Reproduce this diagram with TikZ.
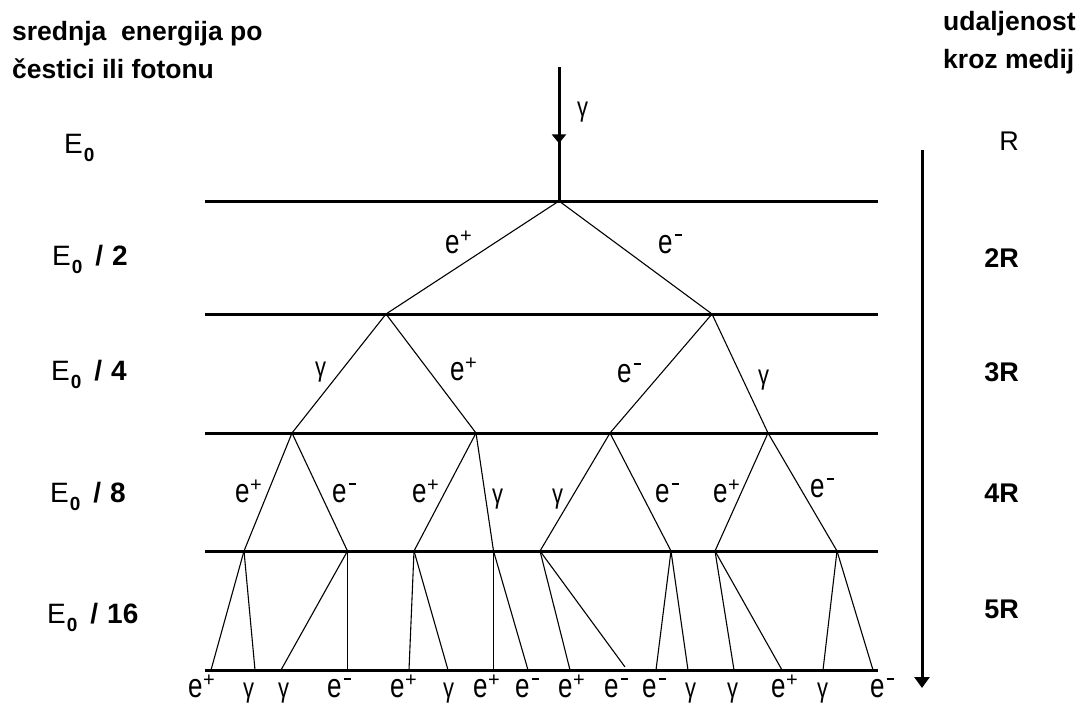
\documentclass[tikz,border=0pt]{standalone}
\usepackage{fontspec}
\setmainfont{Liberation Sans}
\usepackage{graphicx}
\usetikzlibrary{arrows.meta,decorations.markings}
\newcommand\ePlus{\scalebox{1}[1.3]{e}\kern0.5pt\raisebox{10.5pt}{\fontsize{20}{20}\selectfont +}}
\newcommand\eMinus{\scalebox{1}[1.3]{e}\kern2pt\rule[17pt]{7.5pt}{1.8pt}}
\newcommand\gam{\scalebox{1}[1.25]{\fontsize{22}{22}\selectfont γ}}
\newcommand\Ezero{E\kern1pt\raisebox{-8pt}{\bfseries\fontsize{19}{19}\selectfont 0}}
\newcommand\Elab[1]{\Ezero\hspace{13pt}{\bfseries /}\hspace{9pt}{\bfseries #1}}
\begin{document}
\begin{tikzpicture}[x=1pt,y=-1pt,
  hline/.style={line width=3pt},
  branch/.style={line width=1.1pt},
  lab/.style={inner sep=0pt,anchor=base west,font=\fontsize{26}{26}\selectfont},
  elabel/.style={inner sep=0pt,anchor=base west,font=\fontsize{28}{28}\selectfont},
  rlabel/.style={inner sep=0pt,anchor=base east,font=\fontsize{27}{27}\selectfont\bfseries},
  title/.style={inner sep=0pt,anchor=base west,font=\fontsize{26.5}{26.5}\selectfont\bfseries}]
\useasboundingbox (0,0) rectangle (1083,707);
% titles
\node[title] (t1) at (12,40) {srednja\ \ energija po};
\node[title] (t2) at (12,78) {čestici ili fotonu};
\node[title] (t3) at (943,30) {udaljenost};
\node[title] (t4) at (943,68) {kroz medij};
% energy labels
\node[elabel] (E0) at (64,153) {\Ezero};
\node[elabel] (E2) at (52,265) {\Elab{2}};
\node[elabel] (E4) at (51,380) {\Elab{4}};
\node[elabel] (E8) at (50,502) {\Elab{8}};
\node[elabel] (E16) at (47,623) {\Elab{16}};
% distance labels
\node[rlabel,font=\fontsize{27}{27}\selectfont] (R1) at (1019,150) {R};
\node[rlabel] (R2) at (1019,267) {2R};
\node[rlabel] (R3) at (1019,381) {3R};
\node[rlabel] (R4) at (1019,502) {4R};
\node[rlabel] (R5) at (1019,618) {5R};
% distance arrow
\coordinate (dTop) at (922,150);
\coordinate (dBot) at (922,688);
\draw[hline,-{Triangle[width=15pt,length=11pt]}] (dTop) -- (dBot);
% horizontal lines
\foreach \n/\y in {1/201,2/314,3/433,4/551,5/670}{
  \coordinate (L\n a) at (205,\y);
  \coordinate (L\n b) at (878,\y);
  \draw[hline] (L\n a) -- (L\n b);
}
% incoming gamma
\coordinate (gin) at (559,67);
\coordinate (V0) at (559,201);
\draw[hline,postaction={decorate},decoration={markings,mark=at position 0.57 with {\arrow{Triangle[width=14pt,length=9pt]}}}] (gin) -- (V0);
\node[lab] (g0) at (577,116) {\gam};
% vertices
\coordinate (A1) at (386,314);
\coordinate (A2) at (712,314);
\coordinate (B1) at (292,433);
\coordinate (B2) at (476,433);
\coordinate (B3) at (610,433);
\coordinate (B4) at (768,433);
\foreach \n/\x in {1/244,2/347.5,3/414,4/493.5,5/540,6/671,7/715,8/837}{
  \coordinate (C\n) at (\x,551);
}
\foreach \n/\x in {1/211,2/255,3/281,4/347.5,5/409,6/448,7/493.5,8/528,9/570,10/656,11/688,12/734,13/782,14/823,15/873}{
  \coordinate (D\n) at (\x,670);
}
\coordinate (Dx) at (625,667);
% branches
\draw[branch] (V0) -- (A1);
\draw[branch] (V0) -- (A2);
\draw[branch] (A1) -- (B1);
\draw[branch] (A1) -- (B2);
\draw[branch] (A2) -- (B3);
\draw[branch] (A2) -- (B4);
\draw[branch] (B1) -- (C1);
\draw[branch] (B1) -- (C2);
\draw[branch] (B2) -- (C3);
\draw[branch] (B2) -- (C4);
\draw[branch] (B3) -- (C5);
\draw[branch] (B3) -- (C6);
\draw[branch] (B4) -- (C7);
\draw[branch] (B4) -- (C8);
\draw[branch] (C1) -- (D1);
\draw[branch] (C1) -- (D2);
\draw[branch] (C2) -- (D3);
\draw[branch] (C2) -- (D4);
\draw[branch] (C3) -- (D5);
\draw[branch] (C3) -- (D6);
\draw[branch] (C4) -- (D7);
\draw[branch] (C4) -- (D8);
\draw[branch] (C5) -- (D9);
\draw[branch] (C5) -- (Dx);
\draw[branch] (C6) -- (D10);
\draw[branch] (C6) -- (D11);
\draw[branch] (C7) -- (D12);
\draw[branch] (C7) -- (D13);
\draw[branch] (C8) -- (D14);
\draw[branch] (C8) -- (D15);
% level 1 labels
\node[lab] (l1a) at (445,253) {\ePlus};
\node[lab] (l1b) at (658,253) {\eMinus};
% level 2 labels
\node[lab] (l2a) at (315,376) {\gam};
\node[lab] (l2b) at (450,380) {\ePlus};
\node[lab] (l2c) at (617,382) {\eMinus};
\node[lab] (l2d) at (758,384) {\gam};
% level 3 labels
\node[lab] (l3a) at (235,502) {\ePlus};
\node[lab] (l3b) at (332,502) {\eMinus};
\node[lab] (l3c) at (412,502) {\ePlus};
\node[lab] (l3d) at (492,503) {\gam};
\node[lab] (l3e) at (552,503) {\gam};
\node[lab] (l3f) at (655,502) {\eMinus};
\node[lab] (l3g) at (713,502) {\ePlus};
\node[lab] (l3h) at (810,497) {\eMinus};
% bottom labels
\node[lab] (b1) at (188,697) {\ePlus};
\node[lab] (b2) at (243,697) {\gam};
\node[lab] (b3) at (278,697) {\gam};
\node[lab] (b4) at (327,697) {\eMinus};
\node[lab] (b5) at (390,697) {\ePlus};
\node[lab] (b6) at (443,697) {\gam};
\node[lab] (b7) at (473,697) {\ePlus};
\node[lab] (b8) at (515,697) {\eMinus};
\node[lab] (b9) at (558,697) {\ePlus};
\node[lab] (b10) at (604,697) {\eMinus};
\node[lab] (b11) at (642,697) {\eMinus};
\node[lab] (b12) at (685,697) {\gam};
\node[lab] (b13) at (727,697) {\gam};
\node[lab] (b14) at (771,697) {\ePlus};
\node[lab] (b15) at (817,697) {\gam};
\node[lab] (b16) at (870,697) {\eMinus};
\end{tikzpicture}
\end{document}
